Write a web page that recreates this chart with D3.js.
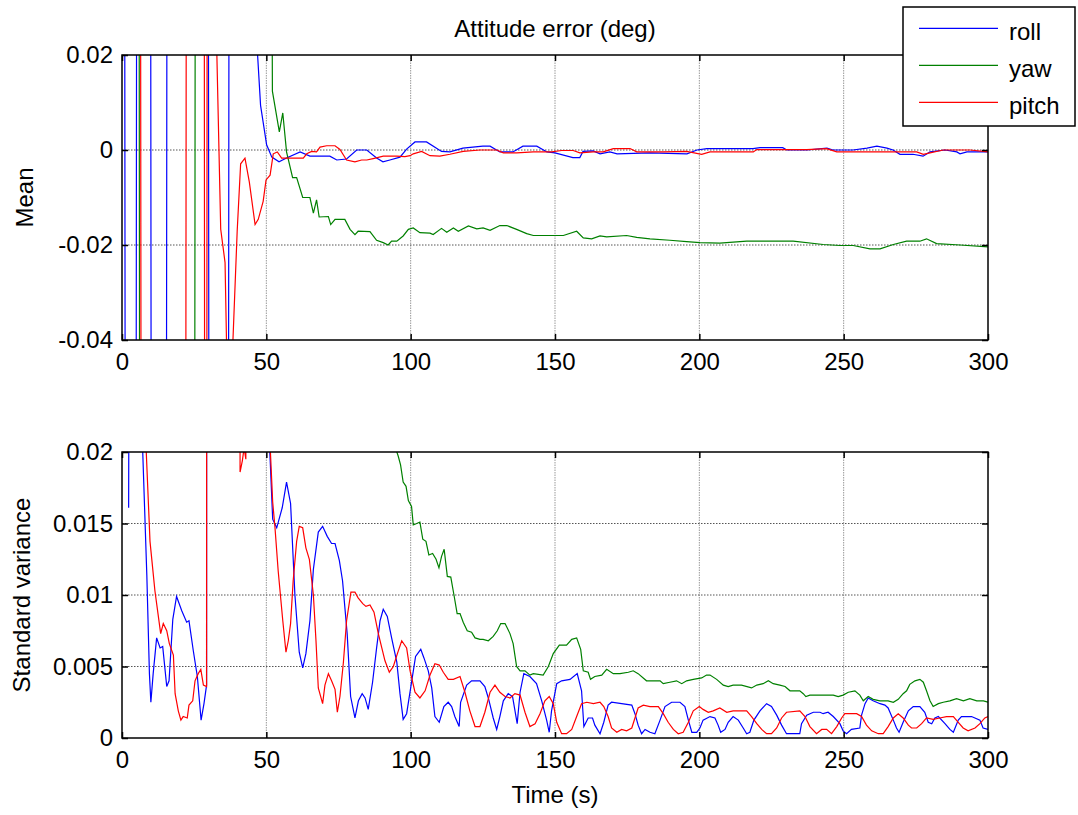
<!DOCTYPE html>
<html>
<head>
<meta charset="utf-8">
<script src="https://cdn.jsdelivr.net/npm/d3@7/dist/d3.min.js"></script>
<style>
body { margin: 0; background: #fff; }
text { font-family: "Liberation Sans", Arial, sans-serif; }
</style>
</head>
<body>
<svg id="chart" width="1078" height="815"></svg>
<script>
// series names / colours, in legend order
var seriesNames = ["roll", "yaw", "pitch"];
var seriesColors = ["#0000ff", "#008000", "#ff0000"];

var xTicks = [0, 50, 100, 150, 200, 250, 300];
var meanTicks = [-0.04, -0.02, 0, 0.02];
var meanTickLabels = ["-0.04", "-0.02", "0", "0.02"];
var stdTicks = [0, 0.005, 0.01, 0.015, 0.02];
var stdTickLabels = ["0", "0.005", "0.01", "0.015", "0.02"];

// mean error, [time s, deg] (values far off scale before ~50 s are clipped)
var meanRoll = [[0.5,0.3],[1.5,-0.3],[4.5,-0.3],[5.5,0.3],[9.5,0.3],[10.5,-0.3],[15,-0.3],[16,0.3],[29.5,0.3],[30.5,-0.3],[36.5,-0.3],[37.5,0.3],[46,0.03],[48.0,0.0094],[50.1,0.0011],[51.9,-0.0015],[54.4,-0.0025],[57.0,-0.0017],[61.7,-0.0004],[65.1,-0.0013],[72.0,-0.0013],[74.4,-0.0021],[77.8,-0.0019],[81.3,0],[84.8,0],[88.2,-0.0017],[90.4,-0.0025],[92.8,-0.0021],[96.3,-0.0015],[98.6,0.0002],[101.5,0.0017],[105.5,0.0017],[110.7,-0.0003],[113.6,-0.0004],[118.1,0.0004],[125.0,0.0008],[127.5,0.0008],[130.9,-0.0004],[135.4,-0.0004],[138.9,0.0008],[143.7,0.0008],[147.2,-0.0004],[150.0,-0.0006],[156.2,-0.0016],[158.6,-0.0016],[159.7,-0.0003],[163.2,-0.0002],[165.6,-0.0008],[169.0,-0.0004],[171.5,-0.0008],[182.9,-0.0006],[195.7,-0.0008],[199.2,0],[202.6,0.0003],[218.6,0.0003],[221.0,0.0005],[228.9,0.0005],[230.3,0],[237.3,0],[244.2,0.0004],[246.3,0],[253.2,0],[258.1,0.0004],[261.5,0.0008],[265.0,0.0004],[267.1,0],[269.5,-0.0009],[274.0,-0.0009],[277.5,-0.0013],[279.9,-0.0004],[285.1,0],[289.2,-0.0004],[290.3,-0.0008],[292.7,-0.0004],[300,-0.0004]];
var meanYaw = [[0.5,0.3],[5.5,0.3],[6.5,-0.3],[24.8,-0.3],[25.8,0.3],[51.6,0.1],[52.1,0.0124],[54.5,0.0038],[55.7,0.0078],[57.0,-0.0004],[59.1,-0.0058],[60.5,-0.0058],[62.6,-0.0100],[65.1,-0.0100],[66.3,-0.0133],[67.4,-0.0105],[68.3,-0.0141],[71.5,-0.0140],[72.3,-0.0157],[73.8,-0.0146],[77.2,-0.0146],[79.0,-0.0167],[80.7,-0.0178],[81.8,-0.0171],[85.9,-0.0172],[88.2,-0.0190],[90.5,-0.0195],[92.2,-0.0200],[93.4,-0.0192],[95.2,-0.0192],[97.4,-0.0181],[99.2,-0.0167],[100.9,-0.0164],[103.2,-0.0174],[106.7,-0.0175],[107.8,-0.0178],[110.7,-0.0165],[112.5,-0.0173],[114.8,-0.0164],[116.5,-0.0171],[120.0,-0.0160],[122.9,-0.0166],[125.1,-0.0164],[127.5,-0.0169],[130.9,-0.0159],[133.3,-0.0159],[136.7,-0.0167],[140.2,-0.0176],[142.5,-0.0180],[152.9,-0.0180],[157.5,-0.0171],[159.8,-0.0185],[162.7,-0.0187],[165.6,-0.0181],[167.9,-0.0183],[174.8,-0.0180],[178.3,-0.0184],[182.9,-0.0187],[189.8,-0.0190],[195.6,-0.0193],[200.2,-0.0195],[207.1,-0.0196],[216.4,-0.0192],[232.5,-0.0192],[242.9,-0.0199],[248.7,-0.0201],[253.3,-0.0201],[259.1,-0.0208],[262.6,-0.0208],[267.2,-0.0199],[271.8,-0.0192],[276.4,-0.0192],[278.7,-0.0187],[282.2,-0.0197],[290.3,-0.0200],[300,-0.0204]];
var meanPitch = [[0.5,0.3],[6,0.3],[7,-0.3],[21.7,-0.3],[22.7,0.3],[28.2,0.3],[28.9,-0.3],[29.1,-0.3],[29.8,0.3],[32.5,0.03],[34.2,-0.0167],[35.7,-0.0237],[36.8,-0.06],[37.8,-0.05],[39.9,-0.0171],[41.1,-0.0029],[42.6,-0.0017],[44.1,-0.0067],[46.1,-0.0157],[47.2,-0.0146],[48.9,-0.0108],[49.9,-0.0063],[51.3,-0.0053],[52.4,-0.0008],[53.8,-0.0004],[55.3,-0.0017],[62.8,-0.0017],[64.0,-0.0008],[65.7,-0.0003],[67.4,-0.0004],[68.6,0.0006],[70.9,0.0009],[73.8,0.0009],[75.5,0.0001],[77.8,-0.0021],[80.7,-0.0025],[83.0,-0.0021],[84.8,-0.0021],[87.0,-0.0018],[90.5,-0.0013],[95.2,-0.0013],[98.0,-0.0014],[99.8,-0.0012],[100.9,-0.0008],[103.8,-0.0003],[106.7,-0.0012],[110.1,-0.0013],[113.6,-0.0009],[118.2,-0.0003],[124.0,0],[129.8,0],[132.1,-0.0006],[136.7,-0.0006],[142.5,-0.0004],[148.8,-0.0004],[152.3,-0.0001],[156.3,-0.0001],[158.6,-0.0006],[163.2,-0.0004],[166.7,-0.0004],[170.2,0.0003],[176.0,0.0003],[178.3,-0.0004],[187.5,-0.0004],[195.6,-0.0003],[200.8,-0.0009],[203.7,-0.0004],[218.7,-0.0004],[219.9,0.0001],[237.2,0.0001],[244.1,0.0003],[247.6,-0.0004],[275.3,-0.0004],[277.6,-0.0009],[279.9,-0.0006],[284.5,0],[293.7,0],[300,-0.0004]];

// standard variance, [time s, deg]
var stdRoll = [[2.3,0.0161],[3.2,0.1],[6.5,0.1],[7.1,0.0205],[8.6,0.0114],[9.5,0.0045],[10.0,0.0025],[10.8,0.0045],[12.0,0.0070],[13.2,0.0063],[14.1,0.0064],[15.5,0.0036],[16.3,0.0040],[17.6,0.0083],[18.9,0.0099],[20.7,0.0089],[22.4,0.0081],[23.2,0.0082],[24.7,0.0061],[26.1,0.0043],[27.4,0.00125],[28.4,0.0024],[29.3,0.0037],[29.6,0.3],[50.3,0.3],[51.0,0.021],[52.2,0.0153],[53.6,0.0147],[55.5,0.0161],[57.0,0.0179],[58.4,0.0164],[59.9,0.0100],[61.4,0.0060],[62.6,0.0049],[63.7,0.0059],[65.1,0.0082],[66.3,0.0118],[68.0,0.0144],[69.5,0.0148],[71.1,0.0141],[72.6,0.0136],[73.8,0.0136],[75.3,0.0124],[76.4,0.0110],[78.0,0.0073],[79.2,0.0029],[80.7,0.0014],[81.9,0.0026],[83.2,0.0031],[84.2,0.0028],[85.3,0.0020],[86.8,0.0039],[88.2,0.0063],[89.4,0.0082],[90.5,0.0090],[91.9,0.0085],[93.4,0.0070],[95.2,0.0053],[96.3,0.0031],[97.4,0.0013],[98.6,0.0017],[100.0,0.0035],[101.7,0.0057],[103.5,0.0062],[104.6,0.0056],[106.1,0.0047],[107.3,0.0035],[108.4,0.0015],[109.9,0.0011],[111.5,0.0022],[113.0,0.0025],[114.2,0.0022],[115.3,0.0015],[116.8,0.0008],[117.3,0.0025],[119.4,0.0037],[121.1,0.0040],[124.0,0.0040],[125.7,0.0036],[126.9,0.0028],[128.6,0.0014],[129.8,0.0006],[130.9,0.0015],[132.1,0.0026],[133.8,0.0031],[135.3,0.0029],[136.9,0.0010],[137.9,0.0032],[139.2,0.0045],[141.3,0.0043],[143.6,0.0038],[145.4,0.0026],[147.1,0.00125],[148.0,0.0004],[148.8,0.0019],[150.6,0.0038],[152.3,0.0040],[155.2,0.0041],[157.7,0.0045],[159.2,0.0033],[160.0,0.0008],[161.5,0.0014],[163.0,0.0014],[163.8,0.0009],[165.6,0.0003],[166.9,0.0011],[168.4,0.0023],[169.6,0.0025],[173.1,0.0024],[176.6,0.0023],[177.7,0.0017],[178.8,0.0009],[180.0,0.0003],[181.2,0.0006],[182.9,0.0004],[184.6,0.0003],[186.4,0.00125],[188.1,0.0022],[190.4,0.0025],[193.3,0.0025],[195.0,0.0022],[196.2,0.00125],[197.4,0.0004],[199.1,0.0004],[200.2,0.0007],[201.3,0.00125],[203.7,0.0015],[205.4,0.0014],[206.5,0.0009],[207.4,0.0004],[208.9,0.0006],[210.0,0.0011],[211.7,0.0015],[213.5,0.00125],[215.2,0.0007],[216.4,0.0003],[217.5,0.0004],[218.9,0.00125],[221.0,0.0019],[223.3,0.0024],[225.0,0.0022],[226.8,0.0016],[228.5,0.0009],[230.2,0.0003],[234.8,0.0003],[235.4,0.0010],[237.2,0.0016],[239.5,0.0018],[241.8,0.0018],[242.9,0.0017],[244.6,0.0018],[246.4,0.0015],[248.7,0.0010],[249.8,0.0005],[251.0,0.0003],[252.7,0.0006],[255.6,0.0007],[256.2,0.0016],[257.4,0.0024],[258.5,0.0028],[260.2,0.0026],[262.6,0.0024],[264.3,0.0023],[265.4,0.0021],[267.2,0.00125],[268.3,0.0007],[269.2,0.0004],[270.6,0.0011],[272.4,0.0019],[274.1,0.0022],[276.4,0.0022],[278.1,0.0018],[279.3,0.0011],[280.5,0.0010],[281.6,0.0014],[282.8,0.0015],[285.1,0.0010],[286.8,0.0006],[288.0,0.0004],[289.7,0.00125],[290.8,0.0015],[294.3,0.0015],[297.2,0.00125],[298.3,0.0007],[300,0.0006]];
var stdYaw = [[1,0.3],[93.8,0.3],[94.4,0.0205],[95.7,0.0197],[96.5,0.0191],[97.4,0.0179],[98.4,0.0176],[99.2,0.0166],[100.3,0.0162],[100.9,0.0149],[102.1,0.0150],[103.2,0.0151],[104.2,0.0139],[105.3,0.01375],[106.3,0.0128],[107.6,0.0129],[108.8,0.0125],[109.8,0.0119],[110.7,0.0127],[111.6,0.0132],[112.7,0.0113],[113.9,0.01125],[115.0,0.0100],[116.1,0.0087],[117.1,0.0087],[118.2,0.0081],[119.6,0.0075],[121.1,0.0074],[122.3,0.0070],[124.0,0.0069],[125.1,0.0069],[126.9,0.0068],[128.6,0.0071],[130.0,0.0075],[131.2,0.0080],[132.7,0.0080],[134.4,0.0073],[135.5,0.0066],[136.7,0.0050],[137.9,0.0047],[139.6,0.0047],[141.3,0.0044],[142.5,0.0045],[145.9,0.0044],[147.7,0.0050],[149.4,0.0059],[151.5,0.0065],[154.0,0.0065],[155.8,0.0069],[157.5,0.0070],[158.9,0.0062],[159.8,0.0047],[161.5,0.0046],[162.3,0.0041],[163.8,0.0043],[166.2,0.0044],[167.9,0.0048],[170.2,0.0045],[172.5,0.0045],[175.4,0.0046],[177.1,0.0047],[178.8,0.0045],[181.7,0.0040],[186.4,0.0040],[187.5,0.0038],[189.8,0.0039],[192.1,0.0040],[193.9,0.0038],[195.6,0.0040],[197.9,0.0041],[200.8,0.0042],[202.5,0.0044],[203.7,0.0044],[206.0,0.0041],[208.3,0.0037],[210.0,0.0036],[211.7,0.0037],[214.6,0.0037],[218.1,0.0035],[219.9,0.0037],[222.1,0.0038],[223.9,0.0040],[225.6,0.0038],[227.9,0.0037],[229.7,0.0036],[231.4,0.0033],[234.8,0.0033],[236.0,0.0031],[236.9,0.0029],[238.3,0.0030],[246.4,0.0030],[248.1,0.0029],[249.8,0.0030],[251.6,0.0032],[253.9,0.0033],[255.6,0.0030],[256.8,0.0026],[258.5,0.0029],[260.2,0.0027],[262.6,0.0026],[265.4,0.0026],[267.2,0.0025],[268.9,0.0027],[270.6,0.0031],[271.8,0.0033],[272.9,0.00375],[274.7,0.0040],[276.4,0.0041],[277.6,0.0039],[278.7,0.0033],[279.9,0.0026],[281.0,0.0022],[282.8,0.0024],[284.5,0.0025],[286.8,0.0026],[289.1,0.00275],[291.5,0.0026],[293.7,0.00275],[296.1,0.0026],[298.4,0.0026],[300,0.0025]];
var stdPitch = [[2.3,0.3],[7.8,0.3],[8.3,0.0205],[9.7,0.01375],[11.4,0.0103],[13.4,0.0073],[14.3,0.0080],[15.5,0.0075],[16.4,0.0066],[17.8,0.0058],[18.4,0.0031],[19.5,0.0019],[20.4,0.00125],[21.2,0.0015],[22.6,0.0014],[23.2,0.0023],[24.5,0.0026],[25.3,0.0040],[26.4,0.0045],[27.3,0.0048],[28.2,0.0037],[29.3,0.0036],[29.5,0.3],[40.5,0.3],[40.9,0.0186],[41.7,0.0194],[42.3,0.0203],[42.9,0.0195],[43.5,0.3],[50.3,0.3],[51.3,0.0205],[52.2,0.0165],[53.0,0.0147],[54.1,0.0117],[55.7,0.0082],[56.8,0.0060],[57.6,0.0068],[58.4,0.0080],[59.3,0.0110],[60.5,0.01375],[61.4,0.0148],[62.6,0.0147],[63.7,0.0133],[64.9,0.0125],[66.3,0.0100],[67.2,0.0068],[68.0,0.0035],[69.5,0.0024],[70.3,0.0037],[71.5,0.0045],[72.6,0.0040],[73.8,0.0034],[74.6,0.0018],[75.5,0.0029],[76.7,0.0053],[77.8,0.0082],[79.3,0.0102],[80.7,0.0102],[81.8,0.0098],[83.4,0.0094],[84.5,0.0092],[85.9,0.0093],[87.3,0.0088],[88.8,0.0073],[90.0,0.0063],[91.1,0.0054],[92.6,0.0046],[94.0,0.0050],[95.4,0.0059],[96.9,0.0068],[98.6,0.0063],[99.8,0.0047],[101.5,0.0032],[103.2,0.0028],[105.0,0.0033],[106.7,0.0044],[108.4,0.0052],[109.9,0.0051],[111.3,0.0046],[113.0,0.0041],[114.8,0.0041],[117.1,0.0043],[118.8,0.0032],[120.5,0.0019],[122.3,0.0008],[124.0,0.0008],[125.7,0.0018],[127.5,0.0032],[129.2,0.0037],[130.9,0.0032],[132.7,0.0029],[134.4,0.0028],[136.1,0.0031],[137.9,0.0030],[139.6,0.0018],[141.3,0.0008],[143.1,0.0010],[144.8,0.0017],[146.5,0.0026],[148.0,0.0029],[149.4,0.0024],[150.6,0.0011],[152.3,0.0003],[154.0,0.0003],[155.8,0.0006],[157.5,0.0015],[159.2,0.0024],[161.0,0.0025],[163.3,0.0024],[165.6,0.0025],[166.9,0.0022],[168.4,0.0015],[169.6,0.0007],[171.4,0.0004],[173.1,0.0006],[174.8,0.0005],[176.6,0.0007],[177.7,0.0014],[178.8,0.0021],[180.6,0.0023],[182.9,0.0022],[185.8,0.0022],[187.5,0.0017],[189.2,0.0011],[191.0,0.0006],[192.7,0.0003],[194.4,0.0004],[196.2,0.0011],[197.9,0.0019],[200.0,0.0022],[201.3,0.0020],[203.1,0.0018],[204.8,0.0019],[207.1,0.0021],[209.5,0.0018],[211.7,0.0019],[216.4,0.0019],[218.1,0.0015],[219.9,0.0010],[221.6,0.0006],[223.3,0.0003],[225.0,0.0003],[226.8,0.0007],[228.5,0.0014],[230.2,0.0018],[234.8,0.0019],[236.6,0.0015],[238.3,0.0008],[240.6,0.0003],[242.4,0.0006],[244.1,0.0006],[245.8,0.0003],[247.6,0.0008],[249.3,0.0014],[250.4,0.0017],[254.5,0.0017],[256.2,0.0015],[257.9,0.0009],[259.7,0.0005],[262.0,0.0003],[263.7,0.0003],[265.4,0.0008],[267.2,0.0014],[268.9,0.0017],[270.6,0.0014],[272.4,0.0009],[273.5,0.0007],[275.3,0.0007],[277.0,0.0010],[278.7,0.0014],[281.0,0.0013],[283.3,0.0014],[285.6,0.0015],[288.0,0.0015],[289.7,0.0011],[291.4,0.0007],[293.1,0.0005],[295.5,0.0007],[297.2,0.0010],[298.9,0.0014],[300,0.0015]];

var svg = d3.select("#chart");
svg.append("rect").attr("width", 1078).attr("height", 815).attr("fill", "#fff");

var left = 122, right = 988;
var x = d3.scaleLinear().domain([0, 300]).range([left, right]);

function drawPanel(id, top, bottom, domain, ticks, tickLabels, series, ylabel, ylabelX) {
    var y = d3.scaleLinear().domain(domain).range([bottom, top]);
    var g = svg.append("g").attr("class", id);

    g.append("clipPath").attr("id", "clip-" + id)
        .append("rect")
        .attr("x", left).attr("y", top)
        .attr("width", right - left).attr("height", bottom - top);

    // grid
    g.append("g").selectAll("line")
        .data(xTicks.filter(function(d) { return d > 0 && d < 300; }))
        .enter().append("line")
        .attr("x1", function(d) { return x(d); })
        .attr("x2", function(d) { return x(d); })
        .attr("y1", top).attr("y2", bottom)
        .attr("stroke", "#999").attr("stroke-width", 1)
        .attr("stroke-dasharray", "1.5,1");
    g.append("g").selectAll("line")
        .data(ticks.filter(function(d) { return d > domain[0] && d < domain[1]; }))
        .enter().append("line")
        .attr("x1", left).attr("x2", right)
        .attr("y1", function(d) { return y(d); })
        .attr("y2", function(d) { return y(d); })
        .attr("stroke", "#555").attr("stroke-width", 1)
        .attr("stroke-dasharray", "1.5,1.5");

    // data
    var line = d3.line()
        .x(function(d) { return x(d[0]); })
        .y(function(d) { return y(d[1]); });
    g.append("g").attr("clip-path", "url(#clip-" + id + ")")
        .selectAll("path")
        .data(series)
        .enter().append("path")
        .attr("d", function(d) { return line(d); })
        .attr("fill", "none")
        .attr("stroke", function(d, i) { return seriesColors[i]; })
        .attr("stroke-width", 1.2);

    // axes with inward ticks
    var fmt = function(d) { return tickLabels[ticks.indexOf(d)]; };
    var yl = g.append("g").attr("transform", "translate(" + left + ",0)")
        .call(d3.axisLeft(y).tickValues(ticks).tickFormat(fmt).tickSizeInner(-6).tickSizeOuter(0).tickPadding(9));
    var yr = g.append("g").attr("transform", "translate(" + right + ",0)")
        .call(d3.axisRight(y).tickValues(ticks).tickFormat("").tickSizeInner(-6).tickSizeOuter(0));
    var xb = g.append("g").attr("transform", "translate(0," + bottom + ")")
        .call(d3.axisBottom(x).tickValues(xTicks).tickSizeInner(-6).tickSizeOuter(0).tickPadding(13));
    var xt = g.append("g").attr("transform", "translate(0," + top + ")")
        .call(d3.axisTop(x).tickValues(xTicks).tickFormat("").tickSizeInner(-6).tickSizeOuter(0));

    [yl, yr, xb, xt].forEach(function(a) {
        a.select(".domain").remove();
        a.selectAll("line").attr("stroke", "#000").attr("stroke-width", 1.5);
        a.selectAll("text").attr("font-size", 24).attr("fill", "#000")
            .attr("font-family", "'Liberation Sans', Arial, sans-serif");
    });

    g.append("rect")
        .attr("x", left).attr("y", top)
        .attr("width", right - left).attr("height", bottom - top)
        .attr("fill", "none").attr("stroke", "#000").attr("stroke-width", 1.5);

    g.append("text")
        .attr("transform", "translate(" + ylabelX + "," + (top + bottom) / 2 + ") rotate(-90)")
        .attr("text-anchor", "middle")
        .attr("font-size", 24)
        .text(ylabel);
}

drawPanel("mean", 55, 340, [-0.04, 0.02], meanTicks, meanTickLabels,
    [meanRoll, meanYaw, meanPitch], "Mean", 33);
drawPanel("std", 452, 738, [0, 0.02], stdTicks, stdTickLabels,
    [stdRoll, stdYaw, stdPitch], "Standard variance", 30);

svg.append("text")
    .attr("x", (left + right) / 2).attr("y", 37)
    .attr("text-anchor", "middle").attr("font-size", 24)
    .text("Attitude error (deg)");

svg.append("text")
    .attr("x", (left + right) / 2).attr("y", 803)
    .attr("text-anchor", "middle").attr("font-size", 24)
    .text("Time (s)");

// legend
var legend = svg.append("g");
legend.append("rect")
    .attr("x", 903).attr("y", 7).attr("width", 172).attr("height", 119)
    .attr("fill", "#fff").attr("stroke", "#000").attr("stroke-width", 1.5);
var items = legend.selectAll("g.item")
    .data(seriesNames)
    .enter().append("g")
    .attr("class", "item")
    .attr("transform", function(d, i) { return "translate(0," + (28.3 + i * 37) + ")"; });
items.append("line")
    .attr("x1", 919).attr("x2", 998)
    .attr("stroke", function(d, i) { return seriesColors[i]; })
    .attr("stroke-width", 1.2);
items.append("text")
    .attr("x", 1009).attr("y", 11.5)
    .attr("font-size", 24)
    .text(function(d) { return d; });
</script>
</body>
</html>
